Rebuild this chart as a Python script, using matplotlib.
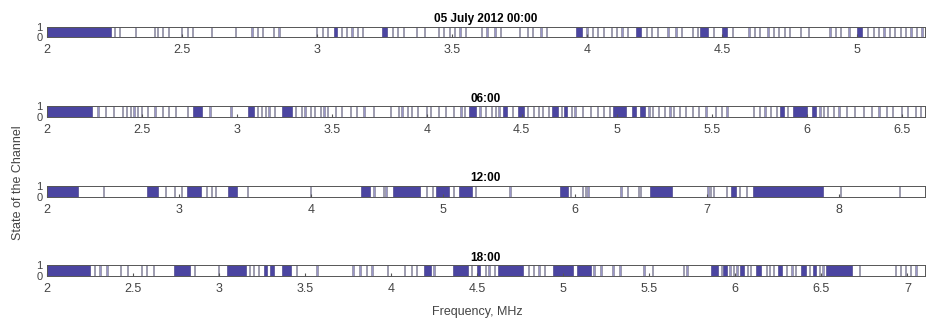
import matplotlib.pyplot as plt
from matplotlib.ticker import FormatStrFormatter
import numpy as np

plt.rcParams['font.family'] = ['Liberation Sans', 'DejaVu Sans']

# Channel occupancy read off the strips: contiguous busy blocks (start, end) in MHz
# and single busy channels (MHz)
titles = ['05 July 2012 00:00', '06:00', '12:00', '18:00']
x_max = [5.25, 6.62, 8.65, 7.10]
x_ticks = [
    [2, 2.5, 3, 3.5, 4, 4.5, 5],
    [2, 2.5, 3, 3.5, 4, 4.5, 5, 5.5, 6, 6.5],
    [2, 3, 4, 5, 6, 7, 8],
    [2, 2.5, 3, 3.5, 4, 4.5, 5, 5.5, 6, 6.5, 7],
]

p1_blocks = [(2.0, 2.24), (3.065, 3.075), (3.24, 3.26), (3.96, 3.98), (4.18, 4.20),
             (4.42, 4.45), (4.50, 4.52), (5.00, 5.02)]
p1_single = [2.25, 2.27, 2.33, 2.40, 2.41, 2.43, 2.45, 2.50, 2.52, 2.54, 2.61, 2.70,
             2.76, 2.78, 2.80, 2.84, 2.86, 3.00, 3.02, 3.04, 3.09, 3.11, 3.13, 3.15,
             3.17, 3.28, 3.30, 3.32, 3.37, 3.40, 3.45, 3.47, 3.49, 3.51, 3.53, 3.55,
             3.61, 3.63, 3.66, 3.68, 3.75, 3.78, 3.80, 3.83, 3.85, 4.00, 4.02, 4.04,
             4.06, 4.09, 4.11, 4.13, 4.15, 4.22, 4.24, 4.26, 4.30, 4.33, 4.35, 4.39,
             4.41, 4.47, 4.54, 4.60, 4.62, 4.64, 4.67, 4.69, 4.71, 4.73, 4.75, 4.79,
             4.82, 4.90, 4.92, 4.94, 4.97, 5.04, 5.06, 5.08, 5.10, 5.12, 5.14, 5.16,
             5.18, 5.20, 5.22, 5.24]

p2_blocks = [(2.0, 2.24), (2.77, 2.82), (3.06, 3.09), (3.24, 3.29), (4.22, 4.26),
             (4.40, 4.42), (4.48, 4.51), (4.66, 4.69), (4.72, 4.74), (4.98, 5.05),
             (5.08, 5.10), (5.12, 5.15), (5.86, 5.88), (5.93, 6.00), (6.03, 6.05)]
p2_single = [2.27, 2.31, 2.35, 2.40, 2.42, 2.44, 2.46, 2.48, 2.50, 2.53, 2.57, 2.61,
             2.64, 2.68, 2.74, 2.86, 2.97, 3.11, 3.13, 3.15, 3.17, 3.20, 3.31, 3.34,
             3.36, 3.39, 3.41, 3.44, 3.46, 3.48, 3.52, 3.55, 3.60, 3.63, 3.67, 3.72,
             3.81, 3.85, 3.87, 3.90, 3.92, 3.95, 4.00, 4.02, 4.06, 4.10, 4.14, 4.18,
             4.20, 4.28, 4.31, 4.34, 4.36, 4.38, 4.45, 4.53, 4.56, 4.59, 4.61, 4.64,
             4.71, 4.76, 4.78, 4.82, 4.86, 4.90, 4.93, 4.96, 5.17, 5.19, 5.22, 5.25,
             5.28, 5.30, 5.33, 5.36, 5.40, 5.43, 5.47, 5.52, 5.55, 5.58, 5.72, 5.75,
             5.78, 5.81, 5.84, 5.90, 6.07, 6.09, 6.11, 6.14, 6.17, 6.21, 6.25, 6.30,
             6.34, 6.38, 6.42, 6.45, 6.50, 6.53, 6.57, 6.60]

p3_blocks = [(2.0, 2.24), (2.76, 2.84), (3.06, 3.17), (3.37, 3.44), (4.38, 4.45),
             (4.62, 4.83), (4.95, 5.05), (5.12, 5.22), (5.89, 5.95), (6.57, 6.74),
             (7.18, 7.22), (7.35, 7.88)]
p3_single = [2.43, 2.90, 2.97, 3.02, 3.21, 3.25, 3.28, 3.52, 4.00, 4.48, 4.55, 4.57,
             4.88, 4.92, 5.08, 5.25, 5.51, 5.97, 6.06, 6.08, 6.10, 6.35, 6.40, 6.48,
             6.50, 7.01, 7.03, 7.05, 7.15, 7.25, 7.30, 8.01, 8.46]

p4_blocks = [(2.0, 2.25), (2.74, 2.83), (3.05, 3.16), (3.26, 3.28), (3.30, 3.32),
             (3.37, 3.42), (4.19, 4.23), (4.36, 4.45), (4.50, 4.52), (4.62, 4.77),
             (4.94, 5.06), (5.08, 5.16), (5.86, 5.90), (5.93, 5.95), (6.03, 6.05),
             (6.12, 6.15), (6.25, 6.27), (6.38, 6.41), (6.45, 6.47), (6.53, 6.68)]
p4_single = [2.28, 2.31, 2.35, 2.43, 2.47, 2.55, 2.58, 2.62, 2.86, 3.00, 3.18, 3.20,
             3.23, 3.45, 3.57, 3.78, 3.82, 3.86, 3.89, 3.98, 4.08, 4.12, 4.15, 4.25,
             4.47, 4.55, 4.57, 4.60, 4.80, 4.83, 4.86, 4.89, 5.18, 5.22, 5.29, 5.33,
             5.47, 5.52, 5.70, 5.72, 5.92, 5.97, 5.99, 6.01, 6.07, 6.09, 6.18, 6.20,
             6.22, 6.30, 6.33, 6.35, 6.43, 6.49, 6.51, 6.72, 6.93, 6.96, 6.99, 7.02,
             7.05]

blocks = [p1_blocks, p2_blocks, p3_blocks, p4_blocks]
singles = [p1_single, p2_single, p3_single, p4_single]

busy = '#4b45a1'
frame = '#555555'

fig = plt.figure(figsize=(9.33, 3.21), dpi=100)
# axes boxes in figure fractions: [left, bottom, width, height]
boxes = [
    [0.050, 0.884, 0.941, 0.033],
    [0.050, 0.636, 0.941, 0.034],
    [0.050, 0.386, 0.941, 0.036],
    [0.050, 0.140, 0.941, 0.033],
]

for i in range(4):
    ax = fig.add_axes(boxes[i])
    span = x_max[i] - 2.0
    chan_w = span / 880 * 1.2  # about one pixel wide

    ax.broken_barh([(s, e - s) for s, e in blocks[i]], (0, 1),
                   facecolors=busy, edgecolors='#3b3580', linewidth=0.4)
    ax.broken_barh([(f - chan_w / 2, chan_w) for f in singles[i]], (0, 1),
                   facecolors='#9a96c8', edgecolors='#8c8c9c', linewidth=0.5)

    ax.set_xlim(2.0, x_max[i])
    ax.set_ylim(0, 1)
    ax.set_xticks(x_ticks[i])
    ax.xaxis.set_major_formatter(FormatStrFormatter('%g'))
    ax.set_yticks([0, 1])
    ax.tick_params(axis='x', direction='in', length=2, labelsize=9,
                   labelcolor='#444444', color=frame, pad=5)
    ax.tick_params(axis='y', direction='in', length=0, labelsize=8,
                   labelcolor='#444444', pad=3)
    for sp in ax.spines.values():
        sp.set_color(frame)
        sp.set_linewidth(0.7)
    ax.set_title(titles[i], fontsize=8.5, fontweight='bold', pad=3)

fig.text(0.019, 0.43, 'State of the Channel', rotation=90, fontsize=9,
         color='#444444', ha='center', va='center')
fig.text(0.512, 0.028, 'Frequency, MHz', fontsize=9, color='#444444',
         ha='center', va='center')

plt.savefig('out.png', dpi=100)
plt.close(fig)
